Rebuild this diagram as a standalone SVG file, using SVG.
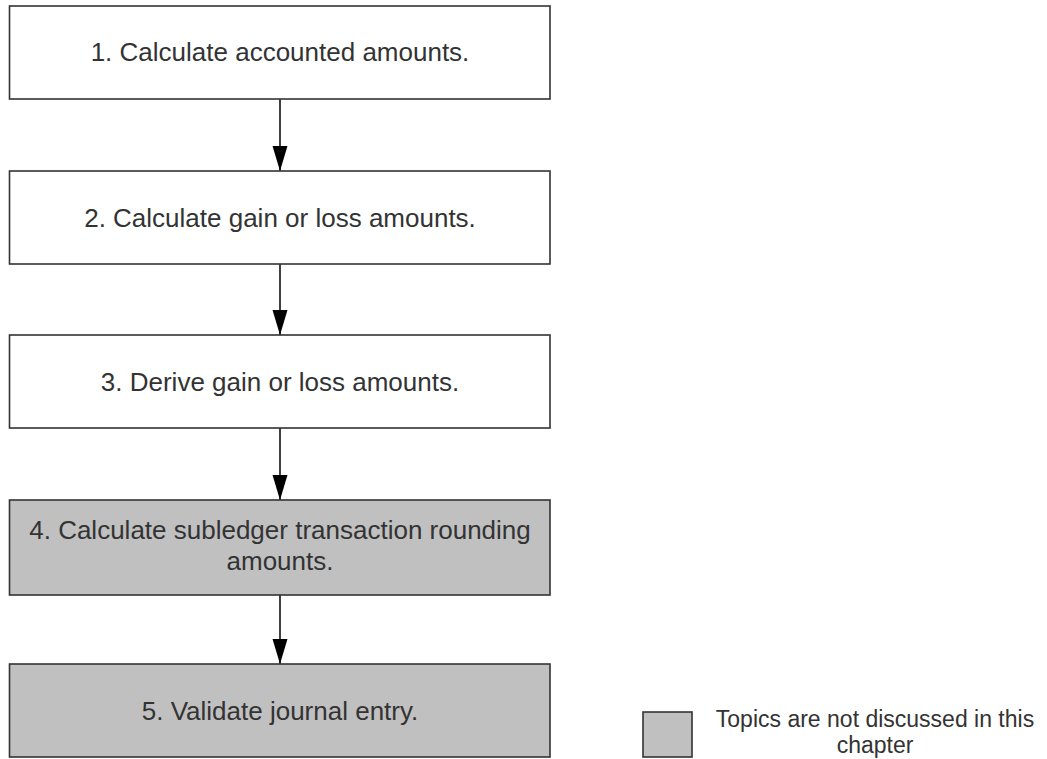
<svg xmlns="http://www.w3.org/2000/svg" width="1047" height="759" viewBox="0 0 1047 759">
<style>
.box{fill:#ffffff;stroke:#333333;stroke-width:1.6}
.gray{fill:#c0c0c0;stroke:#333333;stroke-width:1.6}
.t{font-family:"Liberation Sans",Arial,sans-serif;font-size:26px;fill:#333333;text-anchor:middle}
.lt{font-family:"Liberation Sans",Arial,sans-serif;font-size:23px;fill:#333333;text-anchor:middle}
.c{stroke:#111111;stroke-width:1.6;fill:none}
</style>
<defs>
<marker id="ah" markerWidth="25" markerHeight="16" refX="25" refY="8" orient="auto" markerUnits="userSpaceOnUse" viewBox="0 0 25 16">
<path d="M0,0.5 L25,8 L0,15.5 Z" fill="#000000"/>
</marker>
</defs>
<rect width="1047" height="759" fill="#ffffff"/>
<g id="connectors">
<line class="c" x1="280" y1="99" x2="280" y2="171" marker-end="url(#ah)"/>
<line class="c" x1="280" y1="264" x2="280" y2="335" marker-end="url(#ah)"/>
<line class="c" x1="280" y1="428" x2="280" y2="500" marker-end="url(#ah)"/>
<line class="c" x1="280" y1="595" x2="280" y2="664" marker-end="url(#ah)"/>
</g>
<g id="node1">
<rect class="box" x="9.5" y="6" width="540.5" height="93"/>
<text class="t" x="280" y="61">1. Calculate accounted amounts.</text>
</g>
<g id="node2">
<rect class="box" x="9.5" y="171" width="540.5" height="93"/>
<text class="t" x="280" y="227">2. Calculate gain or loss amounts.</text>
</g>
<g id="node3">
<rect class="box" x="9.5" y="335" width="540.5" height="93"/>
<text class="t" x="280" y="391">3. Derive gain or loss amounts.</text>
</g>
<g id="node4">
<rect class="gray" x="9.5" y="500" width="540.5" height="95"/>
<text class="t" x="280" y="539">4. Calculate subledger transaction rounding</text>
<text class="t" x="280" y="570">amounts.</text>
</g>
<g id="node5">
<rect class="gray" x="9.5" y="664" width="540.5" height="93"/>
<text class="t" x="280" y="720">5. Validate journal entry.</text>
</g>
<g id="legend">
<rect class="gray" x="643" y="712" width="49" height="45"/>
<text class="lt" x="875" y="727">Topics are not discussed in this</text>
<text class="lt" x="875" y="753">chapter</text>
</g>
</svg>
